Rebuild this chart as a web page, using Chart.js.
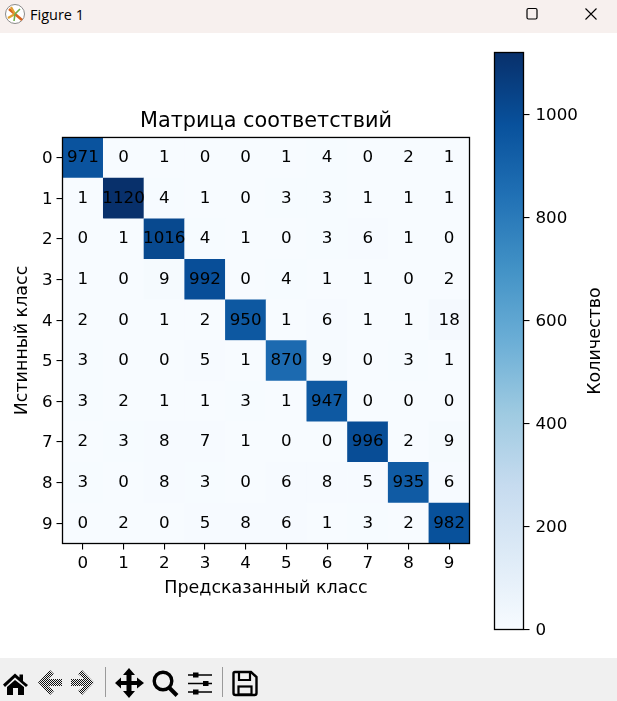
<!DOCTYPE html>
<html>
<head>
<meta charset="utf-8">
<title>Figure 1</title>
<script src="https://cdn.jsdelivr.net/npm/chart.js@4"></script>
<style>
    html, body { margin: 0; padding: 0; background: #fff; overflow: hidden; }
    #page { position: relative; width: 617px; height: 701px; overflow: hidden; background: #fff; }
    #titlebar { position: absolute; left: 0; top: 0; width: 617px; height: 33px; background: #f7f0ee; }
    #titlebar span { position: absolute; left: 30px; top: 5px; font: 14.5px "Open Sans", "Noto Sans", sans-serif; color: #000; }
    #toolbar { position: absolute; left: 0; top: 658px; width: 617px; height: 43px; background: #f0f0f0; }
    svg { position: absolute; left: 0; top: 0; }
    canvas { position: absolute; top: 33px; }
    #matrixChart { left: 0; }
    #colorbarChart { left: 480px; }
</style>
</head>
<body>
<div id="page">
    <div id="titlebar">
        <svg width="617" height="33">
            <circle cx="15" cy="14" r="9.5" fill="#fff" stroke="#8a8a8a" stroke-width="1"/>
            <path d="M9 9 L22 20" stroke="#d8641e" stroke-width="2.6"/>
            <path d="M15 14 L8 18 M15 14 L11 7" stroke="#e0a030" stroke-width="2.2"/>
            <path d="M15 14 L20 9 M15 14 L14 21" stroke="#6fae4a" stroke-width="1.6"/>
            <rect x="527" y="8.5" width="10" height="10.5" rx="1.5" fill="none" stroke="#000" stroke-width="1.2"/>
            <path d="M585.5 8.5 L596.5 19.5 M596.5 8.5 L585.5 19.5" stroke="#000" stroke-width="1.1"/>
        </svg>
        <span>Figure 1</span>
    </div>
    <canvas id="matrixChart" width="485" height="625"></canvas>
    <canvas id="colorbarChart" width="137" height="625"></canvas>
    <div id="toolbar">
        <svg width="617" height="43">
            <defs>
                <pattern id="dither" width="2" height="2" patternUnits="userSpaceOnUse">
                    <rect width="2" height="2" fill="#f0f0f0"/>
                    <rect width="1" height="1" fill="#111"/>
                    <rect x="1" y="1" width="1" height="1" fill="#111"/>
                </pattern>
            </defs>
            <!-- home -->
            <path d="M3 26.5 L15 15.5 L19.5 19.5 V16.5 H23 V23 L28 27 L26 29 L15 19.5 L5 29 Z" fill="#000"/>
            <path d="M7 29 L15 22 L24 29 V37 H18 V30 H13 V37 H7 Z" fill="#000"/>
            <!-- back / forward -->
            <path d="M38 24.5 L50 12 L54 16 L48 21 H62 V28 H48 L54 33 L50 37 Z" fill="url(#dither)"/>
            <path d="M94 24.5 L82 12 L78 16 L84 21 H71 V28 H84 L78 33 L82 37 Z" fill="url(#dither)"/>
            <rect x="105" y="9" width="1" height="30" fill="#9a9a9a"/>
            <!-- move -->
            <path d="M129 10 L135 17 H131.5 V23 H137 V19.5 L144 25 L137 30.5 V27 H131.5 V33 H135 L129 40 L123 33 H126.5 V27 H121 V30.5 L115 25 L121 19.5 V23 H126.5 V17 H123 Z" fill="#000"/>
            <!-- zoom -->
            <circle cx="163" cy="23" r="8.8" fill="none" stroke="#000" stroke-width="3.4"/>
            <path d="M169 29.5 L177 37.5" stroke="#000" stroke-width="4"/>
            <!-- configure -->
            <path d="M188 17 H212 M188 25.5 H212 M188 34 H212" stroke="#000" stroke-width="1.6"/>
            <rect x="193" y="14.5" width="5.5" height="5" fill="#000"/>
            <rect x="203" y="23" width="5.5" height="5" fill="#000"/>
            <rect x="193" y="31.5" width="5.5" height="5" fill="#000"/>
            <rect x="222" y="9" width="1" height="30" fill="#9a9a9a"/>
            <!-- save -->
            <path d="M235 14 H251 L256.5 19 V35 Q256.5 37 254.5 37 H235.5 Q233.5 37 233.5 35 V15.5 Q233.5 14 235 14 Z" fill="none" stroke="#000" stroke-width="2.4"/>
            <path d="M239 15 V22 H250 V15" fill="none" stroke="#000" stroke-width="2.2"/>
            <rect x="238.5" y="28.5" width="13" height="8" fill="none" stroke="#000" stroke-width="2.2"/>
        </svg>
    </div>
</div>

<script>
// Class labels and confusion matrix rows
const classes = [0, 1, 2, 3, 4, 5, 6, 7, 8, 9];
const row0 = [971, 0, 1, 0, 0, 1, 4, 0, 2, 1];
const row1 = [1, 1120, 4, 1, 0, 3, 3, 1, 1, 1];
const row2 = [0, 1, 1016, 4, 1, 0, 3, 6, 1, 0];
const row3 = [1, 0, 9, 992, 0, 4, 1, 1, 0, 2];
const row4 = [2, 0, 1, 2, 950, 1, 6, 1, 1, 18];
const row5 = [3, 0, 0, 5, 1, 870, 9, 0, 3, 1];
const row6 = [3, 2, 1, 1, 3, 1, 947, 0, 0, 0];
const row7 = [2, 3, 8, 7, 1, 0, 0, 996, 2, 9];
const row8 = [3, 0, 8, 3, 0, 6, 8, 5, 935, 6];
const row9 = [0, 2, 0, 5, 8, 6, 1, 3, 2, 982];
const rows = [row0, row1, row2, row3, row4, row5, row6, row7, row8, row9];
const colorbarTicks = [0, 200, 400, 600, 800, 1000];
const colorbarMax = 1120;

// matplotlib "Blues"
const blues = ['#f7fbff', '#deebf7', '#c6dbef', '#9ecae1', '#6baed6', '#4292c6', '#2171b5', '#08519c', '#08306b'];

const FONT = '"DejaVu Sans", sans-serif';
const DIGIT_SIZE = 16.7;
const LABEL_SIZE = 17.5;
Chart.defaults.font.family = FONT;
Chart.defaults.color = '#000';

function hexToRgb(hex) {
    return [1, 3, 5].map(i => parseInt(hex.substr(i, 2), 16));
}

function blueFor(value) {
    const t = Math.min(value / colorbarMax, 1) * (blues.length - 1);
    const i = Math.min(Math.floor(t), blues.length - 2);
    const a = hexToRgb(blues[i]);
    const b = hexToRgb(blues[i + 1]);
    const c = a.map((v, k) => Math.round(v + (b[k] - v) * (t - i)));
    return `rgb(${c[0]}, ${c[1]}, ${c[2]})`;
}

// Box round the plot, like the matplotlib spines
const framePlugin = {
    id: 'frame',
    afterDatasetsDraw(chart) {
        const { ctx, chartArea: a } = chart;
        ctx.save();
        ctx.strokeStyle = '#000';
        ctx.lineWidth = 1.3;
        ctx.strokeRect(a.left, a.top, a.right - a.left, a.bottom - a.top);
        ctx.restore();
    }
};

// Count printed in each cell
const cellTextPlugin = {
    id: 'cellText',
    afterDatasetsDraw(chart) {
        const { ctx, scales } = chart;
        ctx.save();
        ctx.font = DIGIT_SIZE + 'px ' + FONT;
        ctx.fillStyle = '#000';
        ctx.textAlign = 'center';
        ctx.textBaseline = 'middle';
        chart.data.datasets[0].data.forEach(p => {
            ctx.fillText(String(p.v), scales.x.getPixelForValue(p.x), scales.y.getPixelForValue(p.y));
        });
        ctx.restore();
    }
};

// Colorbar label reads bottom to top, which a right axis title can't do
const colorbarLabelPlugin = {
    id: 'colorbarLabel',
    afterDraw(chart) {
        const { ctx, chartArea: a } = chart;
        ctx.save();
        ctx.translate(115, (a.top + a.bottom) / 2);
        ctx.rotate(-Math.PI / 2);
        ctx.font = LABEL_SIZE + 'px ' + FONT;
        ctx.fillStyle = '#000';
        ctx.textAlign = 'center';
        ctx.textBaseline = 'middle';
        ctx.fillText('Количество', 0, 0);
        ctx.restore();
    }
};

function tickGrid() {
    return { drawOnChartArea: false, drawTicks: true, tickLength: 6, color: '#000', lineWidth: 1.1 };
}

function cellRadius(ctx) {
    const area = ctx.chart.chartArea;
    if (!area) return 1;
    // rect radius is half of the diagonal
    return (area.width / classes.length) * Math.SQRT1_2 + 0.3;
}

function initializeMatrixChart() {
    const cells = [];
    rows.forEach((row, y) => row.forEach((v, i) => cells.push({ x: classes[i], y: classes[y], v: v })));

    const useClassTicks = axis => { axis.ticks = classes.map(c => ({ value: c })); };
    const tickOptions = { font: { size: DIGIT_SIZE }, padding: 4, autoSkip: false, maxRotation: 0, color: '#000' };

    new Chart(document.getElementById('matrixChart'), {
        type: 'scatter',
        data: {
            datasets: [{
                data: cells,
                pointStyle: 'rect',
                pointBorderWidth: 0,
                pointBackgroundColor: ctx => blueFor(ctx.raw ? ctx.raw.v : 0),
                pointRadius: cellRadius
            }]
        },
        options: {
            responsive: false,
            animation: false,
            devicePixelRatio: 1,
            layout: { padding: { right: 15.5 } },
            plugins: {
                legend: { display: false },
                tooltip: { enabled: false },
                title: {
                    display: true,
                    text: 'Матрица соответствий',
                    fullSize: false,
                    color: '#000',
                    font: { size: 20.8, weight: 'normal' },
                    padding: { top: 76.5, bottom: 3 }
                }
            },
            scales: {
                x: {
                    type: 'linear',
                    min: -0.5,
                    max: 9.5,
                    afterBuildTicks: useClassTicks,
                    afterFit: axis => { axis.height = 114.5; },
                    grid: tickGrid(),
                    border: { display: false },
                    ticks: tickOptions,
                    title: { display: true, text: 'Предсказанный класс', color: '#000', font: { size: LABEL_SIZE }, padding: { top: 4, bottom: 59 } }
                },
                y: {
                    type: 'linear',
                    reverse: true,
                    min: -0.5,
                    max: 9.5,
                    afterBuildTicks: useClassTicks,
                    afterFit: axis => { axis.width = 62.5; },
                    grid: tickGrid(),
                    border: { display: false },
                    ticks: { ...tickOptions, labelOffset: 1 },
                    title: { display: true, text: 'Истинный класс', color: '#000', font: { size: LABEL_SIZE }, padding: { top: 12, bottom: 0 } }
                }
            }
        },
        plugins: [cellTextPlugin, framePlugin]
    });
}

function initializeColorbar() {
    new Chart(document.getElementById('colorbarChart'), {
        type: 'bar',
        data: {
            labels: ['Количество'],
            datasets: [{
                data: [[0, colorbarMax]],
                barPercentage: 1,
                categoryPercentage: 1,
                borderWidth: 0,
                backgroundColor: ctx => {
                    const a = ctx.chart.chartArea;
                    if (!a) return blues[0];
                    const gradient = ctx.chart.ctx.createLinearGradient(0, a.bottom, 0, a.top);
                    blues.forEach((c, i) => gradient.addColorStop(i / (blues.length - 1), c));
                    return gradient;
                }
            }]
        },
        options: {
            responsive: false,
            animation: false,
            devicePixelRatio: 1,
            layout: { padding: { left: 14.5, top: 19.5, bottom: 28.5 } },
            plugins: {
                legend: { display: false },
                tooltip: { enabled: false }
            },
            scales: {
                x: { display: false },
                y: {
                    position: 'right',
                    min: 0,
                    max: colorbarMax,
                    afterBuildTicks: axis => { axis.ticks = colorbarTicks.map(v => ({ value: v })); },
                    afterFit: axis => { axis.width = 93.5; },
                    grid: tickGrid(),
                    border: { display: false },
                    ticks: { font: { size: DIGIT_SIZE }, padding: 6, color: '#000', labelOffset: 1, callback: v => String(v) }
                }
            }
        },
        plugins: [framePlugin, colorbarLabelPlugin]
    });
}

document.addEventListener('DOMContentLoaded', function() {
    initializeMatrixChart();
    initializeColorbar();
});
</script>
</body>
</html>
